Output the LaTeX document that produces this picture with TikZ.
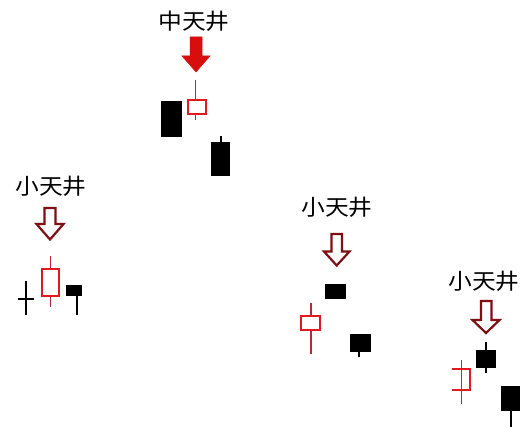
\documentclass[tikz,border=0pt]{standalone}
\usepackage{fontspec}
\usepackage{tikz}
\usetikzlibrary{positioning}
\newfontfamily\cjk{Noto Sans CJK SC}
\definecolor{candlered}{HTML}{E3191E}
\definecolor{wickred}{HTML}{B8283A}
\definecolor{arrowred}{HTML}{D80E0E}
\definecolor{arrowdark}{HTML}{7E0F12}
\tikzset{
    blackbody/.style={fill=black, draw=black, line width=0.6pt},
    blackwick/.style={draw=black, line width=1.6pt},
    redbody/.style={draw=candlered, fill=white, line width=1.8pt},
    redwick/.style={draw=wickred, line width=1.5pt},
    fullarrow/.style={fill=arrowred, draw=arrowred, line width=0.5pt},
    openarrow/.style={fill=white, draw=arrowdark, line width=2.2pt, line join=miter},
    ceiling/.style={font=\cjk\fontsize{22}{24}\selectfont, inner sep=0pt, xscale=1.08}
}
\begin{document}
\begin{tikzpicture}[x=1pt,y=-1pt]
	\useasboundingbox[fill=white] (0,0) rectangle (520,427);
	% labels
	\node[ceiling] (mid) at (194,21) {中天井};
	\node[ceiling] (smallA) at (51,186) {小天井};
	\node[ceiling] (smallB) at (337,207) {小天井};
	\node[ceiling] (smallC) at (484,281) {小天井};
	% arrows
	\draw[fullarrow] (190,37)--(202,37)--(202,56)--(210,56)--(196,72)--(182,56)--(190,56)--cycle;
	\draw[openarrow] (44.5,208)--(55.5,208)--(55.5,224)--(63.5,224)--(50,239.5)--(36.5,224)--(44.5,224)--cycle;
	\draw[openarrow] (331.5,234)--(342,234)--(342,251.5)--(349.5,251.5)--(336.7,265.5)--(324,251.5)--(331.5,251.5)--cycle;
	\draw[openarrow] (481,301)--(491.5,301)--(491.5,320)--(499.5,320)--(486,333)--(472.5,320)--(481,320)--cycle;
	% middle group
	\draw[blackbody] (161.7,101.7) rectangle (181,136);
	\draw[redwick] (195.7,80)--(195.7,120);
	\draw[redbody] (187.7,100) rectangle (205.7,114.3);
	\draw[blackwick] (221,136)--(221,143);
	\draw[blackbody] (211.7,142.7) rectangle (229,175.7);
	% left group
	\draw[blackwick] (26,280.7)--(26,315);
	\draw[blackwick] (18.3,299)--(34,299);
	\draw[redwick] (50.7,256)--(50.7,307.3);
	\draw[redbody] (41.7,269) rectangle (59.3,295.7);
	\draw[blackwick] (76.7,295)--(76.7,315);
	\draw[blackbody] (66,285) rectangle (81.7,295.7);
	% centre right group
	\draw[blackbody] (325,284.3) rectangle (345,298.3);
	\draw[redwick] (311,303.3)--(311,354.3);
	\draw[redbody] (300.7,316) rectangle (320,330);
	\draw[blackwick] (359,351)--(359,356.7);
	\draw[blackbody] (350,334.3) rectangle (370,351.7);
	% right group
	\draw[blackwick] (485.7,341.7)--(485.7,373.3);
	\draw[blackbody] (476.7,350) rectangle (495,367.3);
	\draw[redwick] (461.7,360)--(461.7,404);
	\draw[candlered, line width=1.8pt] (452,369.3)--(470,369.3)--(470,390)--(452,390);
	\draw[blackwick] (511,386)--(511,427);
	\draw[blackbody] (501,386.7) rectangle (519.3,410);
\end{tikzpicture}
\end{document}
